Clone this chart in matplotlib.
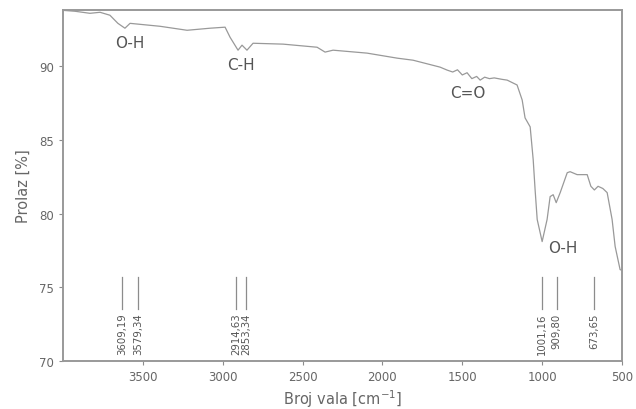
import matplotlib
matplotlib.use("Agg")
import matplotlib.pyplot as plt

# Spectrum (wavenumber cm^-1, transmittance %)
wavenumber = [4000, 3925, 3831, 3768, 3706, 3656, 3612, 3580, 3392, 3223, 3079, 2985,
              2954, 2904, 2879, 2848, 2810, 2622, 2409, 2359, 2309, 2096, 1908, 1808,
              1639, 1595, 1560, 1530, 1500, 1470, 1440, 1410, 1388, 1360, 1330, 1300,
              1250, 1219, 1157, 1125, 1107, 1075, 1056, 1044, 1031, 1000, 969, 950, 931,
              912, 887, 843, 825, 781, 718, 695, 673, 650, 620, 593, 562, 543, 512, 500]
transmittance = [93.78, 93.72, 93.58, 93.65, 93.45, 92.9, 92.57, 92.9, 92.7, 92.43, 92.57, 92.64,
                 91.96, 91.08, 91.42, 91.08, 91.55, 91.49, 91.28, 90.95, 91.08, 90.88, 90.54, 90.4,
                 89.93, 89.73, 89.6, 89.75, 89.4, 89.55, 89.15, 89.3, 89.05, 89.25, 89.15, 89.2,
                 89.1, 89.05, 88.72, 87.7, 86.49, 85.88, 83.65, 81.6, 79.6, 78.1, 79.6, 81.15, 81.28,
                 80.74, 81.42, 82.77, 82.84, 82.64, 82.64, 81.85, 81.6, 81.85, 81.7, 81.42, 79.6, 77.77, 76.2, 76.15]

# Peak markers (drawn position, label)
peak_pos = [3630, 3530, 2914.63, 2853.34, 1001.16, 909.80, 673.65]
peak_labels = ["3609,19", "3579,34", "2914,63", "2853,34", "1001,16", "909,80", "673,65"]

# Band annotations
band_labels = ["O-H", "C-H", "C=O", "O-H"]
band_x = [3580, 2885, 1464, 870]
band_y = [91.6, 90.1, 88.2, 77.7]

x_ticks = [3500, 3000, 2500, 2000, 1500, 1000, 500]
y_ticks = [70, 75, 80, 85, 90]

fig = plt.figure(figsize=(6.36, 4.10), dpi=100)
ax = fig.add_axes([0.099, 0.117, 0.879, 0.856])

ax.plot(wavenumber, transmittance, color="#999999", linewidth=0.9)

for p, lab in zip(peak_pos, peak_labels):
    ax.plot([p, p], [73.5, 75.7], color="#8c8c8c", linewidth=0.9)
    ax.text(p, 73.3, lab, rotation=90, ha="center", va="top",
            fontsize=7.3, color="#555555")

for lab, bx, by in zip(band_labels, band_x, band_y):
    ax.text(bx, by, lab, ha="center", va="center", fontsize=11, color="#555555")

ax.set_xlim(4000, 500)
ax.set_ylim(70, 93.8)
ax.set_xticks(x_ticks)
ax.set_yticks(y_ticks)
ax.tick_params(axis="both", colors="#8c8c8c", labelcolor="#666666", labelsize=8.5,
               length=3, width=0.8)

for s in ax.spines.values():
    s.set_color("#999999")
    s.set_linewidth(1.4)

ax.set_xlabel("Broj vala [cm$^{-1}$]", fontsize=10.5, color="#666666", labelpad=3)
ax.set_ylabel("Prolaz [%]", fontsize=10.5, color="#666666", labelpad=6)

fig.savefig("out.png", dpi=100)
